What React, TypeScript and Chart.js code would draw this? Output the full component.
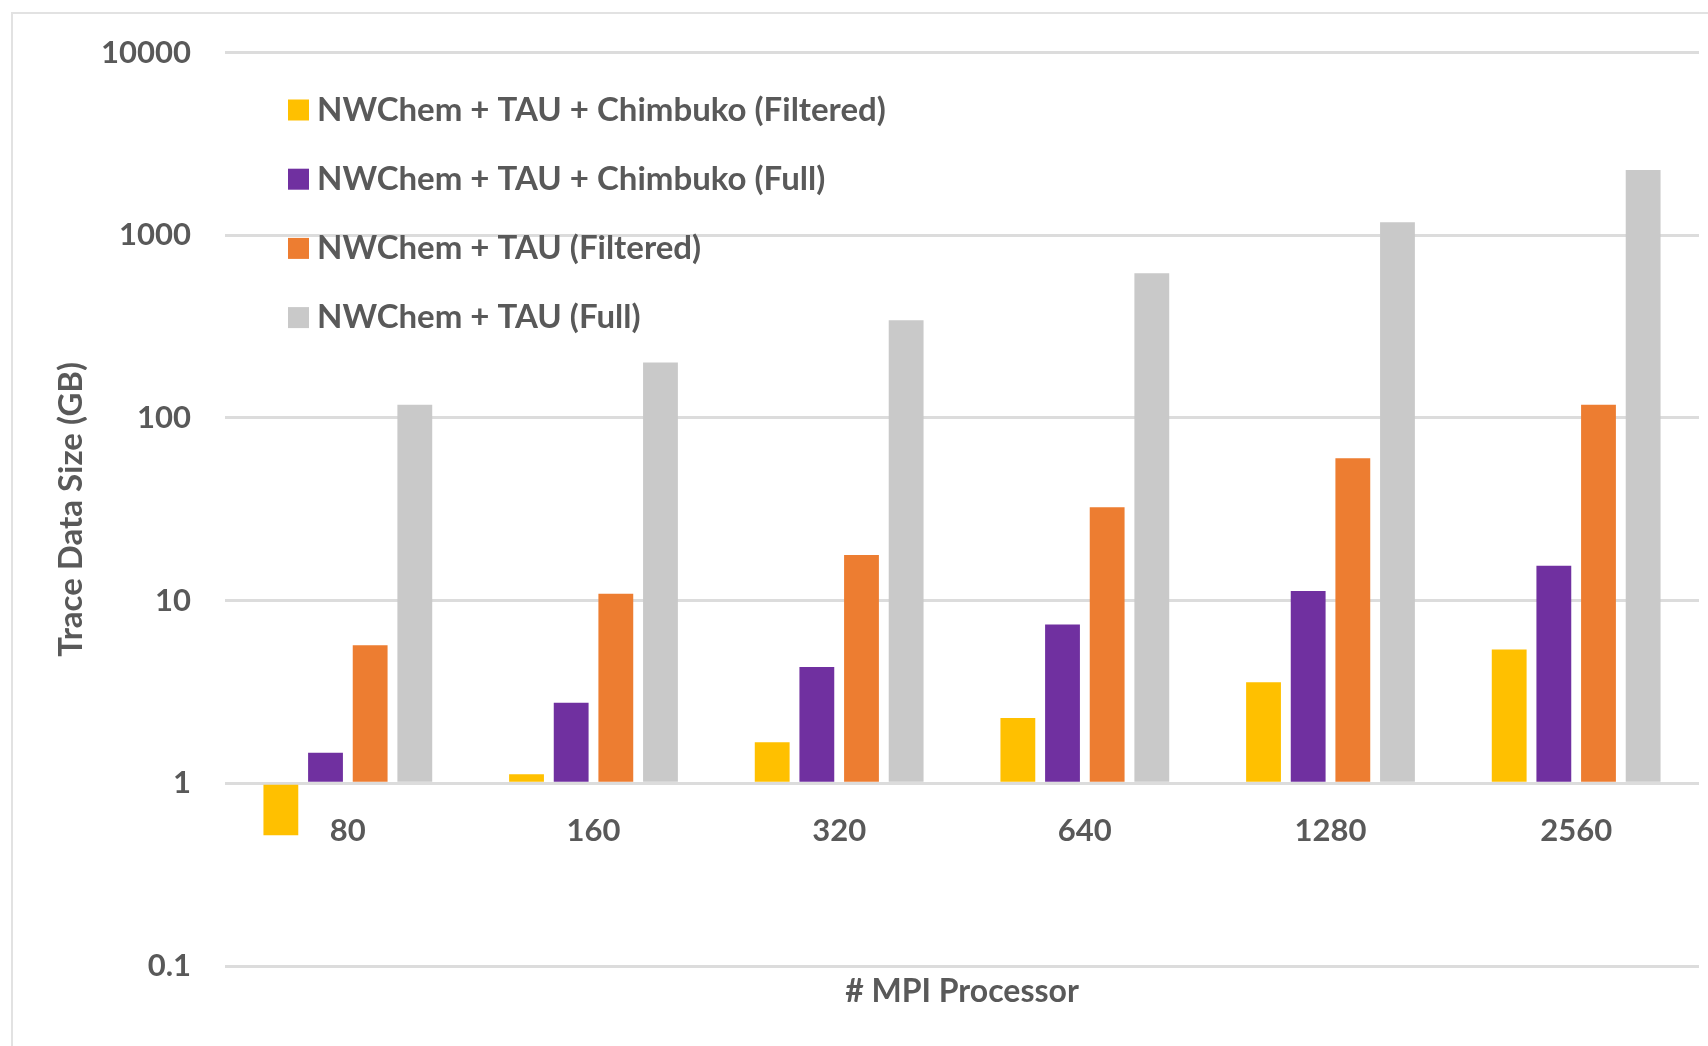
import React, { useEffect, useRef } from "react";
import { Chart, registerables } from "chart.js";

Chart.register(...registerables);

const categories = ["80", "160", "320", "640", "1280", "2560"];
const chimbukoFiltered = [0.52, 1.12, 1.68, 2.28, 3.58, 5.4];
const chimbukoFull = [1.47, 2.76, 4.33, 7.4, 11.3, 15.5];
const tauFiltered = [5.7, 10.9, 17.8, 32.5, 60.2, 118];
const tauFull = [118, 201, 343, 619, 1178, 2277];
const yTicks = [0.1, 1, 10, 100, 1000, 10000];
const seriesLabels = [
  "NWChem + TAU + Chimbuko (Filtered)",
  "NWChem + TAU + Chimbuko (Full)",
  "NWChem + TAU (Filtered)",
  "NWChem + TAU (Full)",
];
const seriesColors = ["#FFC000", "#7030A0", "#ED7D31", "#C9C9C9"];
const yTitle = "Trace Data Size (GB)";
const xTitle = "# MPI Processor";

const FONT = "Lato, 'Open Sans', sans-serif";
const TEXT = "#595959";

const insideLegend = {
  id: "insideLegend",
  afterDatasetsDraw(chart: any) {
    const ctx = chart.ctx;
    const { left, right } = chart.chartArea;
    ctx.save();
    ctx.font = `bold 33px ${FONT}`;
    ctx.textBaseline = "middle";
    ctx.textAlign = "left";
    chart.data.datasets.forEach((ds: any, i: number) => {
      const y = 110 + i * 69.2;
      ctx.fillStyle = ds.backgroundColor;
      ctx.fillRect(288, y - 10.5, 21, 21);
      ctx.fillStyle = TEXT;
      ctx.fillText(ds.label, 317, y);
    });
    ctx.font = `bold 32px ${FONT}`;
    ctx.textAlign = "center";
    ctx.fillStyle = TEXT;
    ctx.fillText(xTitle, (left + right) / 2, 992);
    ctx.restore();
  },
};

export default function App() {
  const ref = useRef<HTMLCanvasElement | null>(null);

  useEffect(() => {
    if (!ref.current) return;
    const values = [chimbukoFiltered, chimbukoFull, tauFiltered, tauFull];
    const chart = new Chart(ref.current, {
      type: "bar",
      data: {
        labels: categories,
        datasets: values.map((v, i) => ({
          label: seriesLabels[i],
          data: v,
          base: 1,
          backgroundColor: seriesColors[i],
          borderWidth: 0,
          categoryPercentage: 0.727,
          barPercentage: 0.78,
        })),
      },
      options: {
        animation: false,
        responsive: false,
        maintainAspectRatio: false,
        layout: { padding: { left: 0, top: 49, right: 9, bottom: 80 } },
        plugins: {
          legend: { display: false },
          tooltip: { enabled: false },
          title: { display: false },
        },
        scales: {
          x: {
            type: "category",
            position: { y: 1 } as any,
            grid: { display: false, drawTicks: false },
            border: { display: false },
            ticks: {
              color: TEXT,
              font: { family: FONT, size: 31, weight: "bold" },
              padding: 29,
              maxRotation: 0,
            },
          },
          y: {
            type: "logarithmic",
            position: "left",
            min: 0.1,
            max: 10000,
            afterBuildTicks: (axis: any) => {
              axis.ticks = yTicks.map((v) => ({ value: v }));
            },
            afterFit: (axis: any) => {
              axis.width = 225;
            },
            grid: { color: "#DCDCDC", lineWidth: 3, drawTicks: false },
            border: { display: false },
            ticks: {
              color: TEXT,
              font: { family: FONT, size: 31, weight: "bold" },
              padding: 34,
              callback: (v: any) => String(v),
            },
            title: {
              display: true,
              text: yTitle,
              color: TEXT,
              font: { family: FONT, size: 33, weight: "bold" },
              padding: { top: 52, bottom: 0 },
            },
          },
        },
      },
      plugins: [insideLegend],
    });
    return () => chart.destroy();
  }, []);

  return (
    <div
      style={{
        position: "fixed",
        left: 0,
        top: 0,
        width: 1708,
        height: 1046,
        background: "#ffffff",
        overflow: "hidden",
      }}
    >
      <div
        style={{
          position: "absolute",
          left: 11,
          top: 12,
          width: 1708,
          height: 1046,
          borderTop: "2px solid #E2E2E2",
          borderLeft: "2px solid #E2E2E2",
        }}
      />
      <canvas
        ref={ref}
        width={1708}
        height={1046}
        style={{ position: "absolute", left: 0, top: 0, width: 1708, height: 1046 }}
      />
    </div>
  );
}
